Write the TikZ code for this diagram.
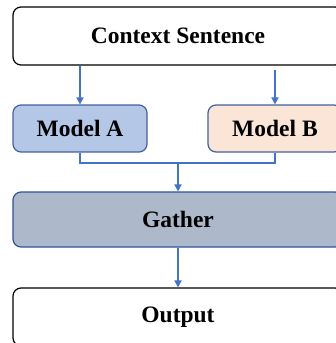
\documentclass[tikz,border=0pt]{standalone}
\usepackage{fontspec}
\setmainfont{Liberation Serif}
\usetikzlibrary{arrows.meta,calc}
\definecolor{flowblue}{HTML}{4472C4}
\definecolor{edgeblue}{HTML}{41629F}
\definecolor{gatheredge}{HTML}{2F5597}
\definecolor{fillA}{HTML}{B4C7E7}
\definecolor{fillB}{HTML}{FBE5D6}
\definecolor{fillG}{HTML}{ADB9CA}
\tikzset{
  box/.style={draw, rounded corners=8pt, line width=1.2pt, inner sep=0pt,
    font=\fontsize{23.5}{28}\selectfont\bfseries},
  plainbox/.style={box, draw=black, fill=white, minimum width=330pt, minimum height=58pt},
  modelbox/.style={box, draw=edgeblue, minimum width=134pt, minimum height=47pt},
  gatherbox/.style={box, draw=gatheredge, fill=fillG, minimum width=330pt, minimum height=55pt},
  link/.style={draw=flowblue, line width=2.2pt},
  arr/.style={link, -{Triangle[length=7pt,width=7pt]}},
}
\begin{document}
\begin{tikzpicture}[x=1pt,y=-1pt]
  \useasboundingbox (0,0) rectangle (336,343);
  \clip (0,0) rectangle (336,343);
  \fill[white] (0,0) rectangle (336,343);

  \node[plainbox] (ctx) at (178,36) {Context Sentence};
  \node[modelbox, fill=fillA] (a) at (80,128.5) {Model A};
  \node[modelbox, fill=fillB] (b) at (275,128.5) {Model B};
  \node[gatherbox] (g) at (178,219.5) {Gather};
  \node[plainbox] (out) at (178,317) {Output};

  % inputs to the two models
  \draw[arr] (ctx.south -| a.north) -- (a.north);
  \draw[arr, shorten <=4pt] (ctx.south -| b.north) -- (b.north);

  % merge the two model outputs
  \coordinate (m) at (178,163);
  \draw[link] (a.south) |- (m) -| (b.south);
  \draw[arr] (m) -- (g.north);

  % gathered result to output
  \draw[arr] (g.south) -- (out.north);
\end{tikzpicture}
\end{document}
